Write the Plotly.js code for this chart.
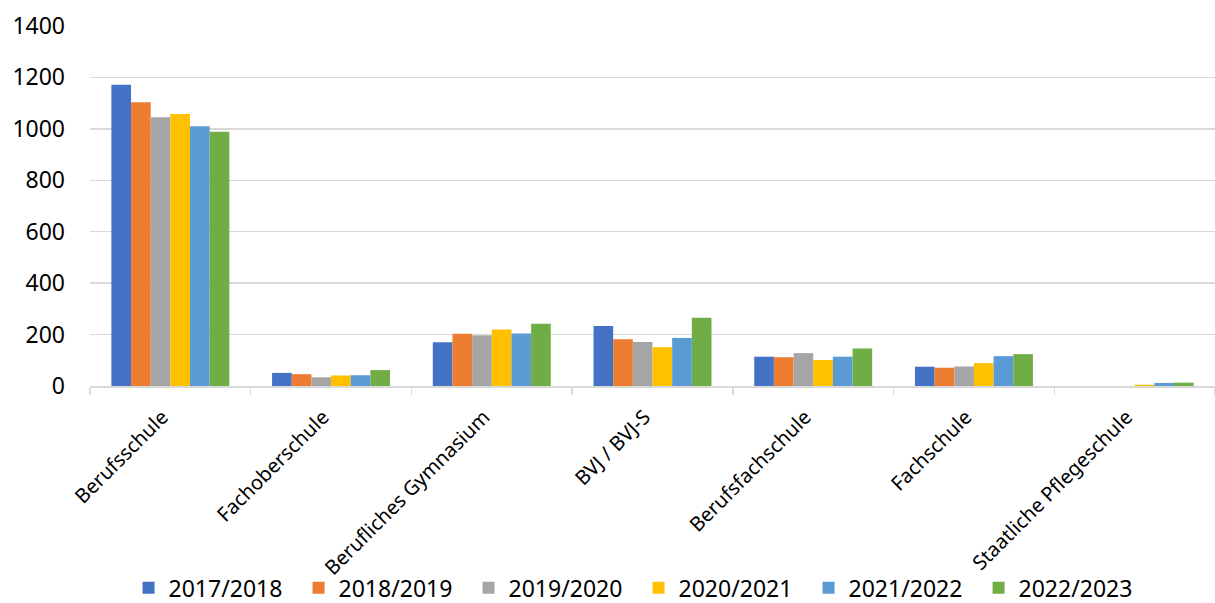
<!DOCTYPE html>
<html>
<head>
<meta charset="utf-8">
<script src="https://cdn.plot.ly/plotly-3.0.1.min.js"></script>
<style>html,body{margin:0;padding:0;background:#fff;}#chart{width:1215px;height:603px;}</style>
</head>
<body>
<div id="chart"></div>
<script>
const categories = ["Berufsschule", "Fachoberschule", "Berufliches Gymnasium", "BVJ / BVJ-S", "Berufsfachschule", "Fachschule", "Staatliche Pflegeschule"];
const seriesNames = ["2017/2018", "2018/2019", "2019/2020", "2020/2021", "2021/2022", "2022/2023"];
const s2017 = [1172, 51, 170, 233, 114, 75, 0];
const s2018 = [1103, 46, 203, 182, 112, 71, 0];
const s2019 = [1045, 34, 197, 171, 128, 76, 0];
const s2020 = [1058, 41, 220, 151, 101, 89, 5];
const s2021 = [1010, 42, 204, 187, 114, 116, 12];
const s2022 = [989, 62, 242, 265, 146, 124, 13];
const yTicks = [0, 200, 400, 600, 800, 1000, 1200, 1400];
const colors = ["#4472C4", "#ED7D31", "#A5A5A5", "#FFC000", "#5B9BD5", "#70AD47"];

const allSeries = [s2017, s2018, s2019, s2020, s2021, s2022];
const traces = allSeries.map((vals, i) => ({
  type: "bar",
  name: seriesNames[i],
  x: categories,
  y: vals,
  marker: {color: colors[i], line: {width: 0}},
  hoverinfo: "x+y+name"
}));

const fam = "Noto Sans, Open Sans, sans-serif";
const bigFont = {family: fam, size: 23, color: "#000"};
const catFont = {family: fam, size: 20, color: "#000"};

const layout = {
  width: 1215,
  height: 603,
  margin: {l: 90, r: 0, t: 26, b: 217, pad: 0, autoexpand: false},
  paper_bgcolor: "#fff",
  plot_bgcolor: "#fff",
  font: bigFont,
  barmode: "group",
  bargap: 0.266,
  bargroupgap: 0,
  showlegend: true,
  legend: {
    orientation: "h",
    x: 0.4876,
    xanchor: "center",
    y: -0.62,
    yanchor: "bottom",
    font: bigFont,
    entrywidth: 125,
    entrywidthmode: "pixels",
    itemwidth: 30,
    traceorder: "normal",
    borderwidth: 0,
    bgcolor: "rgba(0,0,0,0)"
  },
  xaxis: {
    type: "category",
    tickangle: -45,
    ticks: "outside",
    tickson: "boundaries",
    ticklen: 7,
    tickcolor: "#d9d9d9",
    tickwidth: 1.5,
    showline: true,
    linecolor: "#d9d9d9",
    linewidth: 1.5,
    showgrid: false,
    automargin: false,
    tickfont: catFont,
    ticklabelstandoff: 10,
    ticklabelshift: -8,
    fixedrange: true
  },
  yaxis: {
    range: [0, 1400],
    tickvals: yTicks,
    ticktext: yTicks.map(String),
    showgrid: true,
    gridcolor: "#d9d9d9",
    gridwidth: 1.3,
    zeroline: false,
    showline: false,
    ticks: "",
    ticklabelstandoff: 24,
    automargin: false,
    tickfont: bigFont,
    fixedrange: true
  }
};

Plotly.newPlot("chart", traces, layout, {displayModeBar: false, staticPlot: true});
</script>
</body>
</html>
